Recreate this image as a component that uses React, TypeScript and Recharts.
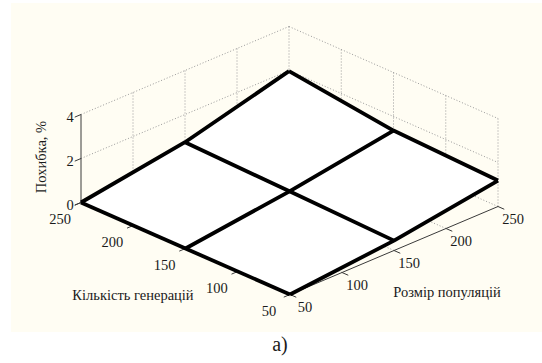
import React from 'react';
import { ScatterChart, Scatter, XAxis, YAxis, ReferenceArea } from 'recharts';

const W = 542;
const H = 363;

// axis ticks
const generations = [50, 100, 150, 200, 250];
const populations = [50, 100, 150, 200, 250];
const errorTicks = [0, 2, 4];

// coarse surface mesh: rows = generations, cols = population size
const meshGen = [250, 150, 50];
const meshPop = [50, 150, 250];
const errGen250 = [0, 0.74, 1.97];
const errGen150 = [0, 0.6, 1.36];
const errGen50 = [0, 0.45, 1.18];
const errors = [errGen250, errGen150, errGen50];

// orthographic view of (generations, population, error)
const proj = (g: number, p: number, z: number) => ({
  x: 81 + (209 * (250 - g)) / 200 + (208 * (p - 50)) / 200,
  y: 202.5 + (92 * (250 - g)) / 200 - (88 * (p - 50)) / 200 - 22 * z,
});

type Pt = { x: number; y: number; label?: string };

const dotted: Pt[][] = [];
populations.slice(1).forEach((p) => dotted.push([proj(250, p, 0), proj(250, p, 4)]));
errorTicks.slice(1).forEach((z) => dotted.push([proj(250, 50, z), proj(250, 250, z)]));
generations.slice(0, 4).forEach((g) => dotted.push([proj(g, 250, 0), proj(g, 250, 4)]));
errorTicks.slice(1).forEach((z) => dotted.push([proj(250, 250, z), proj(50, 250, z)]));
generations.slice(1).forEach((g) => dotted.push([proj(g, 50, 0), proj(g, 250, 0)]));
populations.slice(1).forEach((p) => dotted.push([proj(50, p, 0), proj(250, p, 0)]));

const axes: Pt[][] = [
  [proj(250, 50, 0), proj(250, 50, 4)],
  [proj(250, 50, 0), proj(50, 50, 0)],
  [proj(50, 50, 0), proj(50, 250, 0)],
];
generations.forEach((g) => axes.push([proj(g, 50, 0), proj(g, 44, 0)]));
populations.forEach((p) => axes.push([proj(50, p, 0), proj(44, p, 0)]));
errorTicks.forEach((z) => axes.push([proj(250, 50, z), proj(250, 44, z)]));

const faces: Pt[][] = [];
for (let i = 0; i < 2; i++) {
  for (let j = 0; j < 2; j++) {
    const a = proj(meshGen[i], meshPop[j], errors[i][j]);
    const b = proj(meshGen[i], meshPop[j + 1], errors[i][j + 1]);
    const c = proj(meshGen[i + 1], meshPop[j + 1], errors[i + 1][j + 1]);
    const d = proj(meshGen[i + 1], meshPop[j], errors[i + 1][j]);
    faces.push([a, b, c, d, a]);
  }
}

const mesh: Pt[][] = [];
meshGen.forEach((g, i) => mesh.push(meshPop.map((p, j) => proj(g, p, errors[i][j]))));
meshPop.forEach((p, j) => mesh.push(meshGen.map((g, i) => proj(g, p, errors[i][j]))));

const tickLabels: Pt[] = [
  ...generations.map((g) => {
    const q = proj(g, 50, 0);
    return { x: q.x - 21, y: q.y + 16.5, label: String(g) };
  }),
  ...populations.map((p) => {
    const q = proj(50, p, 0);
    return { x: q.x + 15, y: q.y + 12.5, label: String(p) };
  }),
  ...errorTicks.map((z) => {
    const q = proj(250, 50, z);
    return { x: q.x - 11, y: q.y + 2, label: String(z) };
  }),
];

const titles: Pt[] = [
  { x: 133, y: 295, label: 'Кількість генерацій' },
  { x: 447, y: 292, label: 'Розмір популяцій' },
  { x: 280, y: 344, label: 'а)' },
];
const zTitle: Pt[] = [{ x: 41, y: 157, label: 'Похибка, %' }];

const noDot = () => <g />;
const serif = "'Liberation Serif', 'DejaVu Serif', serif";

const textShape = (size: number, rotate = 0) => (props: any) => (
  <text
    x={props.cx}
    y={props.cy}
    textAnchor="middle"
    dominantBaseline="central"
    fontFamily={serif}
    fontSize={size}
    style={{ fontFamily: serif }}
    fill="#1a1a1a"
    transform={rotate ? `rotate(${rotate} ${props.cx} ${props.cy})` : undefined}
  >
    {props.payload.label}
  </text>
);

export default function App() {
  return (
    <div style={{ position: 'absolute', left: 0, top: 0, width: W, height: H, background: '#fff', fontFamily: serif }}>
      <ScatterChart width={W} height={H} margin={{ top: 0, right: 0, bottom: 0, left: 0 }} style={{ fontFamily: serif }}>
        <XAxis type="number" dataKey="x" domain={[0, W]} hide />
        <YAxis type="number" dataKey="y" domain={[0, H]} reversed hide />
        <ReferenceArea x1={11} x2={W} y1={3} y2={332} fill="#fffdf3" fillOpacity={1} stroke="none" />
        {dotted.map((seg, i) => (
          <Scatter
            key={`d${i}`}
            data={seg}
            shape={noDot}
            line={{ stroke: '#999', strokeWidth: 1, strokeDasharray: '1 2' }}
            isAnimationActive={false}
          />
        ))}
        {faces.map((seg, i) => (
          <Scatter
            key={`f${i}`}
            data={seg}
            shape={noDot}
            line={{ fill: '#ffffff', stroke: '#ffffff', strokeWidth: 1 }}
            isAnimationActive={false}
          />
        ))}
        {axes.map((seg, i) => (
          <Scatter
            key={`a${i}`}
            data={seg}
            shape={noDot}
            line={{ stroke: '#3a3a3a', strokeWidth: 1 }}
            isAnimationActive={false}
          />
        ))}
        {mesh.map((seg, i) => (
          <Scatter
            key={`m${i}`}
            data={seg}
            shape={noDot}
            line={{ stroke: '#000', strokeWidth: 3.8, strokeLinejoin: 'round' }}
            isAnimationActive={false}
          />
        ))}
        <Scatter data={tickLabels} shape={textShape(14.5)} isAnimationActive={false} />
        <Scatter data={titles.slice(0, 2)} shape={textShape(14.5)} isAnimationActive={false} />
        <Scatter data={titles.slice(2)} shape={textShape(20)} isAnimationActive={false} />
        <Scatter data={zTitle} shape={textShape(14.5, -90)} isAnimationActive={false} />
      </ScatterChart>
    </div>
  );
}
